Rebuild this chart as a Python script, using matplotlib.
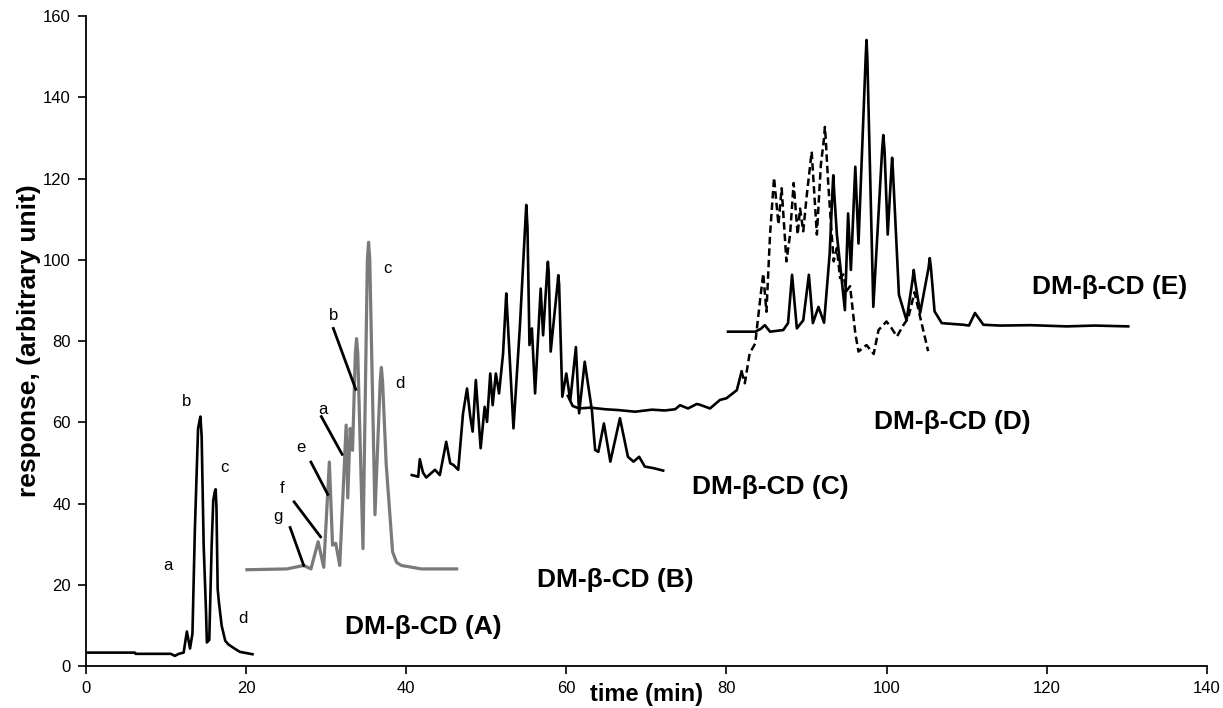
import matplotlib
matplotlib.use('Agg')
import matplotlib.pyplot as plt

plt.rcParams['font.family'] = ['Liberation Sans', 'DejaVu Sans']

# ---- data (time in min, response in arbitrary units) ----
std_t = [0, 6.1, 6.2, 10.6, 11.1, 11.6, 12.2, 12.6, 13.0, 13.3, 13.6, 14.0, 14.2, 14.3, 14.45, 14.7, 15.0,
         15.1, 15.4, 15.7, 15.9, 16.1, 16.2, 16.3, 16.45, 16.6, 16.95, 17.4, 17.8, 18.4, 19.2, 20.8]
std_r = [3.3, 3.3, 3.0, 3.0, 2.5, 3.0, 3.3, 8.5, 4.3, 8.0, 33.4, 58.4, 60.5, 61.4, 56.4, 29.8, 13.1,
         5.8, 6.4, 29.8, 40.8, 43.0, 43.5, 39.0, 19.0, 15.8, 9.9, 6.2, 5.3, 4.5, 3.5, 2.9]

a_t = [20.1, 25.1, 27.2, 28.1, 29.0, 29.7, 30.4, 30.8, 31.2, 31.7, 32.5, 32.7, 33.0, 33.3, 33.65, 33.8,
       33.95, 34.6, 35.15, 35.3, 35.45, 36.1, 36.75, 36.9, 37.05, 37.5, 38.3, 38.8, 39.4, 41.9, 46.3]
a_r = [23.7, 23.9, 24.75, 23.9, 30.6, 24.3, 50.2, 29.75, 30.2, 24.75, 59.3, 41.4, 58.5, 53.1, 77.0, 80.6,
       77.0, 28.9, 100.0, 104.3, 100.0, 37.25, 70.0, 73.5, 70.0, 49.75, 28.1, 25.5, 24.75, 23.9, 23.9]

b_t = [40.7, 41.5, 41.7, 42.1, 42.5, 43.6, 44.2, 45.0, 45.5, 45.9, 46.5, 47.1, 47.6, 48.0, 48.3,
       48.7, 49.3, 49.8, 50.1, 50.5, 50.8, 51.2, 51.6, 52.1, 52.4, 52.5, 52.6, 53.4, 54.2, 54.85, 55.0,
       55.15, 55.4, 55.7, 56.1, 56.8, 57.1, 57.6, 57.7, 57.8, 58.05, 58.9, 59.0, 59.1, 59.5, 60.0, 60.5,
       61.2, 61.6, 62.3, 63.2, 63.6, 64.0, 64.7, 65.5, 66.7, 67.7, 68.4, 69.1, 69.8, 70.9, 72.1]
b_r = [47.0, 46.6, 50.9, 47.6, 46.4, 48.3, 47.0, 55.2, 49.9, 49.5, 48.3, 62.2, 68.3, 61.4, 57.7,
       70.4, 53.6, 63.8, 60.1, 72.0, 64.2, 72.0, 67.1, 76.9, 88.0, 91.7, 88.0, 58.5, 83.5, 108.0, 113.5,
       108.0, 79.0, 83.1, 67.1, 92.9, 81.4, 97.0, 99.5, 97.0, 77.4, 94.0, 96.2, 94.0, 66.3, 72.0, 65.4,
       78.5, 62.2, 74.9, 62.9, 53.2, 52.7, 59.7, 50.3, 61.0, 51.5, 50.3, 51.5, 49.1, 48.7, 48.1]

c_t = [60.2, 60.8, 61.6, 63.0, 64.9, 66.5, 68.6, 70.7, 72.3, 73.6, 74.2, 75.2, 76.3, 76.7, 77.95,
       79.2, 80.0, 81.3, 81.9]
c_r = [66.5, 64.0, 63.4, 63.6, 63.2, 63.0, 62.6, 63.1, 62.9, 63.2, 64.2, 63.4, 64.5, 64.3, 63.4,
       65.5, 65.9, 67.9, 72.5]

d_t = [81.9, 82.3, 82.9, 83.6, 84.2, 84.6, 85.0, 85.45, 85.95, 86.5, 86.9, 87.5, 87.95, 88.4, 88.9,
       89.2, 89.6, 90.0, 90.65, 91.3, 91.8, 92.2, 92.3, 92.4, 92.7, 93.15, 93.4, 93.8, 94.2, 94.6, 95.0,
       95.45, 96.1, 96.5, 97.5, 98.4, 99.0, 100.0, 100.65, 101.3, 102.1, 102.7, 103.5, 104.2, 105.2]
d_r = [72.5, 69.6, 76.9, 79.4, 90.0, 96.6, 87.2, 106.2, 120.2, 108.7, 117.6, 99.6, 106.2, 118.9, 106.2,
       112.6, 107.0, 115.2, 126.6, 106.2, 123.4, 130.0, 132.7, 130.0, 119.3, 106.2, 99.6, 102.9, 95.5,
       96.4, 92.3, 93.5, 81.9, 77.4, 79.0, 76.8, 82.7, 84.8, 83.1, 81.1, 83.9, 85.6, 92.0, 85.9, 77.5]

e_t = [80.2, 83.6, 84.3, 84.8, 85.45, 87.1, 87.7, 88.2, 88.8, 89.6, 90.3, 90.8, 91.5, 92.2, 92.9,
       93.25, 93.35, 93.45, 93.8, 94.3, 94.8, 95.2, 95.55, 96.1, 96.5, 97.4, 97.5, 97.6, 98.35, 99.45,
       99.6, 99.75, 100.15, 100.6, 100.7, 100.8, 101.55, 102.5, 103.25, 103.4, 103.55, 104.2, 105.25,
       105.4, 105.55, 106.0, 106.9, 109.6, 110.3, 111.05, 112.1, 114.2, 118.0, 122.5, 126.0, 130.2]
e_r = [82.3, 82.3, 83.0, 83.9, 82.3, 82.7, 84.4, 96.3, 83.1, 85.1, 96.3, 84.4, 88.4, 84.5, 101.5,
       117.0, 120.8, 117.0, 106.2, 97.0, 87.6, 111.4, 97.5, 122.9, 104.0, 150.0, 154.1, 150.0, 88.4, 127.0,
       130.7, 127.0, 106.2, 122.0, 125.1, 122.0, 91.4, 85.1, 95.0, 97.5, 95.0, 86.9, 98.0,
       100.4, 98.0, 87.3, 84.4, 84.0, 83.8, 86.9, 84.0, 83.8, 83.9, 83.6, 83.8, 83.6]

# peak letters
std_letters = ['a', 'b', 'c', 'd']
std_letter_x = [10.3, 12.6, 17.3, 19.6]
std_letter_y = [24.75, 65.2, 48.9, 11.6]

a_letters = ['g', 'f', 'e', 'a', 'b', 'c', 'd']
a_letter_x = [24.0, 24.5, 26.8, 29.6, 30.9, 37.7, 39.2]
a_letter_y = [36.8, 43.75, 53.9, 63.25, 86.4, 97.9, 69.6]

# pointer lines for A letters (g, f, e, a, b)
ptr_x0 = [25.5, 26.0, 28.1, 29.4, 30.9]
ptr_y0 = [34.1, 40.4, 50.2, 61.4, 83.1]
ptr_x1 = [27.2, 29.3, 30.2, 32.0, 33.7]
ptr_y1 = [24.75, 31.8, 42.25, 52.1, 68.1]

trace_names = ['DM-β-CD (A)', 'DM-β-CD (B)', 'DM-β-CD (C)', 'DM-β-CD (D)', 'DM-β-CD (E)']
name_x = [42.2, 66.1, 85.5, 108.2, 127.9]
name_y = [9.6, 21.2, 44.0, 60.1, 93.4]

x_ticks = [0, 20, 40, 60, 80, 100, 120, 140]
y_ticks = [0, 20, 40, 60, 80, 100, 120, 140, 160]

# ---- figure ----
fig = plt.figure(figsize=(12.23, 7.08), dpi=100)
ax = fig.add_axes([0.0703, 0.0593, 0.9164, 0.9181])

ax.plot(std_t, std_r, color='black', lw=1.9, solid_joinstyle='round')
ax.plot(a_t, a_r, color='#7a7a7a', lw=2.3, solid_joinstyle='round')
ax.plot(b_t, b_r, color='black', lw=1.9, solid_joinstyle='round')
ax.plot(c_t, c_r, color='black', lw=1.9, solid_joinstyle='round')
ax.plot(d_t, d_r, color='black', lw=1.8, linestyle=(0, (3, 1.6)))
ax.plot(e_t, e_r, color='black', lw=1.9, solid_joinstyle='round')

for x0, y0, x1, y1 in zip(ptr_x0, ptr_y0, ptr_x1, ptr_y1):
    ax.plot([x0, x1], [y0, y1], color='black', lw=2.0)

for s, x, y in zip(std_letters, std_letter_x, std_letter_y):
    ax.text(x, y, s, fontsize=12, ha='center', va='center')
for s, x, y in zip(a_letters, a_letter_x, a_letter_y):
    ax.text(x, y, s, fontsize=12, ha='center', va='center')

for s, x, y in zip(trace_names, name_x, name_y):
    ax.text(x, y, s, fontsize=19, fontweight='bold', ha='center', va='center')

ax.set_xlim(0, 140)
ax.set_ylim(0, 160)
ax.set_xticks(x_ticks)
ax.set_yticks(y_ticks)
ax.tick_params(direction='out', length=6, width=1.2, labelsize=12, pad=5)
for side in ['top', 'right']:
    ax.spines[side].set_visible(False)
for side in ['left', 'bottom']:
    ax.spines[side].set_linewidth(1.3)

ax.set_xlabel('time (min)', fontsize=17, fontweight='bold')
ax.xaxis.set_label_coords(0.5, -0.026)
ax.set_ylabel('response, (arbitrary unit)', fontsize=19, fontweight='bold')
ax.yaxis.set_label_coords(-0.04, 0.5)

fig.savefig('out.png', dpi=100)
